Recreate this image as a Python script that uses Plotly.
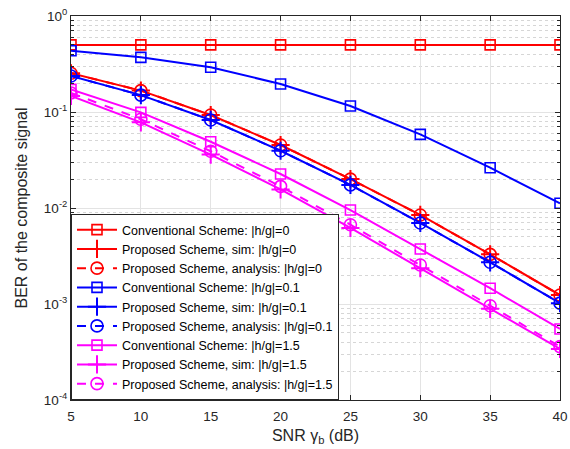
import plotly.graph_objects as go

snr = [5, 10, 15, 20, 25, 30, 35, 40]

conv_0 = [0.5, 0.5, 0.5, 0.5, 0.5, 0.5, 0.5, 0.5]
sim_0 = [0.253, 0.167, 0.093, 0.0453, 0.0200, 0.00846, 0.00329, 0.00124]
ana_0 = [0.253, 0.167, 0.093, 0.0453, 0.0200, 0.00846, 0.00329, 0.00124]

conv_01 = [0.435, 0.371, 0.292, 0.196, 0.1155, 0.0585, 0.0263, 0.0112]
sim_01 = [0.237, 0.150, 0.0826, 0.0395, 0.0174, 0.00698, 0.00272, 0.00102]
ana_01 = [0.237, 0.150, 0.0826, 0.0395, 0.0174, 0.00698, 0.00272, 0.00102]

conv_15 = [0.172, 0.099, 0.049, 0.0226, 0.00953, 0.00374, 0.00146, 0.00055]
sim_15 = [0.147, 0.078, 0.036, 0.0156, 0.0062, 0.00236, 0.00089, 0.00034]
ana_15 = [0.158, 0.084, 0.039, 0.0168, 0.0067, 0.00255, 0.00096, 0.00036]

names = [
    "Conventional Scheme: |h/g|=0",
    "Proposed Scheme, sim: |h/g|=0",
    "Proposed Scheme, analysis: |h/g|=0",
    "Conventional Scheme: |h/g|=0.1",
    "Proposed Scheme, sim: |h/g|=0.1",
    "Proposed Scheme, analysis: |h/g|=0.1",
    "Conventional Scheme: |h/g|=1.5",
    "Proposed Scheme, sim: |h/g|=1.5",
    "Proposed Scheme, analysis: |h/g|=1.5",
]
series = [conv_0, sim_0, ana_0, conv_01, sim_01, ana_01, conv_15, sim_15, ana_15]
colors = ["#FF0000"] * 3 + ["#0000FF"] * 3 + ["#FF00FF"] * 3
styles = ["conv", "sim", "ana"] * 3

y_tickvals = [1e-4, 1e-3, 1e-2, 1e-1, 1]
y_ticktext = ["10<sup>-4</sup>", "10<sup>-3</sup>", "10<sup>-2</sup>", "10<sup>-1</sup>", "10<sup>0</sup>"]
x_tickvals = [5, 10, 15, 20, 25, 30, 35, 40]

minor_vals = [m * 10 ** e for e in range(-4, 0) for m in range(2, 10)]

FONT = "Liberation Sans, Arial, Helvetica, sans-serif"

fig = go.Figure()
for name, ys, col, st in zip(names, series, colors, styles):
    if st == "conv":
        marker = dict(symbol="square-open", size=10, color=col, line=dict(width=1.6, color=col))
        line = dict(color=col, width=2, dash="solid")
    elif st == "sim":
        marker = dict(symbol="cross-thin-open", size=13, color=col, line=dict(width=2, color=col))
        line = dict(color=col, width=2, dash="solid")
    else:
        marker = dict(symbol="circle-open", size=12, color=col, line=dict(width=1.6, color=col))
        line = dict(color=col, width=2, dash="dash")
    fig.add_trace(go.Scatter(x=snr, y=ys, mode="lines+markers", name=name,
                             line=line, marker=marker))

axis_common = dict(
    showline=True, linecolor="#262626", linewidth=1, mirror="allticks",
    ticks="inside", ticklen=5, tickcolor="#262626",
    showgrid=True, gridcolor="#E3E3E3", gridwidth=1,
    tickfont=dict(family=FONT, size=13.5, color="#262626"),
    zeroline=False,
)

fig.update_xaxes(
    range=[5, 40], tickvals=x_tickvals, ticklabelstandoff=4, **axis_common,
    title=dict(text="SNR γ<sub>b</sub> (dB)", font=dict(family=FONT, size=16, color="#262626"), standoff=6),
)
fig.update_yaxes(
    type="log", range=[-4, 0], tickvals=y_tickvals, ticktext=y_ticktext, **axis_common,
    minor=dict(tickvals=minor_vals, ticks="inside", ticklen=3, tickcolor="#262626",
               showgrid=True, gridcolor="#D6D6D6", griddash="dot", gridwidth=1),
    title=dict(text="BER of the composite signal", font=dict(family=FONT, size=16, color="#262626"), standoff=12),
)

fig.update_layout(
    width=570, height=449,
    margin=dict(l=71, r=10, t=16, b=49, autoexpand=False),
    plot_bgcolor="white", paper_bgcolor="white",
    font=dict(family=FONT, color="#262626"),
    legend=dict(x=0, y=0, xanchor="left", yanchor="bottom",
                bgcolor="white", bordercolor="#262626", borderwidth=1,
                font=dict(family=FONT, size=12.5, color="#000000"),
                tracegroupgap=0, itemwidth=40),
    showlegend=True,
)

fig.write_html("out.html", config={"displayModeBar": False},
               post_script="document.body.style.margin='0px';")
